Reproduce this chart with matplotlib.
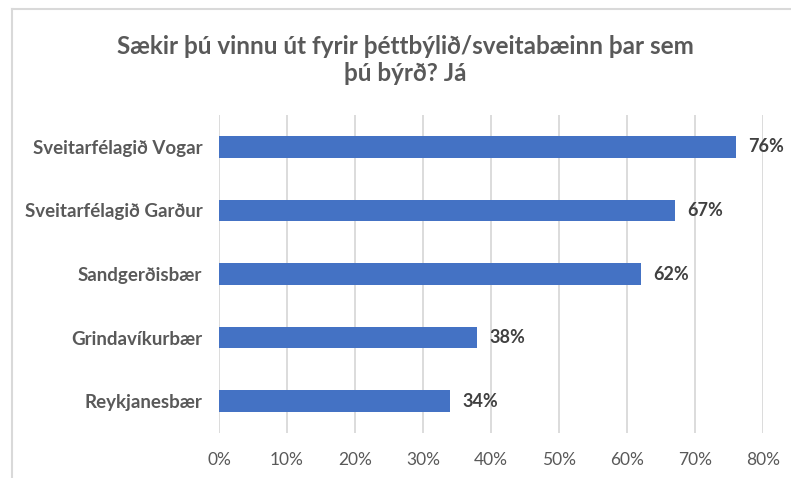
import matplotlib.pyplot as plt
from matplotlib.lines import Line2D

categories = ['Sveitarfélagið Vogar', 'Sveitarfélagið Garður', 'Sandgerðisbær',
              'Grindavíkurbær', 'Reykjanesbær']
values = [0.76, 0.67, 0.62, 0.38, 0.34]
ticks = [0, 0.1, 0.2, 0.3, 0.4, 0.5, 0.6, 0.7, 0.8]
title = 'Sækir þú vinnu út fyrir þéttbýlið/sveitabæinn þar sem\nþú býrð? Já'

plt.rcParams['font.family'] = ['Lato', 'DejaVu Sans']

W, H = 791, 478
fig = plt.figure(figsize=(W / 100, H / 100), dpi=100)
ax = fig.add_axes([219 / W, (H - 433) / H, (763 - 219) / W, 318 / H])

pos = list(range(len(categories)))
ax.barh(pos, values, height=0.34, color='#4472C4', zorder=3)
ax.set_ylim(len(categories) - 0.5, -0.5)
ax.set_xlim(0, 0.8)
ax.set_yticks(pos)
ax.set_yticklabels(categories, fontsize=13.5, fontweight='bold', color='#595959')
ax.set_xticks(ticks)
ax.set_xticklabels([f'{int(round(t * 100))}%' for t in ticks], fontsize=12.5, color='#595959')
ax.tick_params(axis='both', length=0)
ax.tick_params(axis='y', pad=12)
ax.tick_params(axis='x', pad=14)
ax.grid(axis='x', color='#D9D9D9', linewidth=1.3, zorder=0)
for s in ax.spines.values():
    s.set_visible(False)

for p, v in zip(pos, values):
    ax.text(v + 0.018, p, f'{int(round(v * 100))}%', va='center', ha='left',
            fontsize=13, fontweight='bold', color='#404040')

fig.text(0.5 + 10 / W, 1 - 60 / H, title, ha='center', va='center', fontsize=17.5,
         fontweight='bold', color='#595959', linespacing=1.25)

# chart border
fig.add_artist(Line2D([12 / W, 12 / W], [0, 1 - 9 / H], color='#D9D9D9', lw=1.5,
                      transform=fig.transFigure))
fig.add_artist(Line2D([12 / W, 1], [1 - 9 / H, 1 - 9 / H], color='#D9D9D9', lw=1.5,
                      transform=fig.transFigure))

fig.savefig('out.png', dpi=100)
